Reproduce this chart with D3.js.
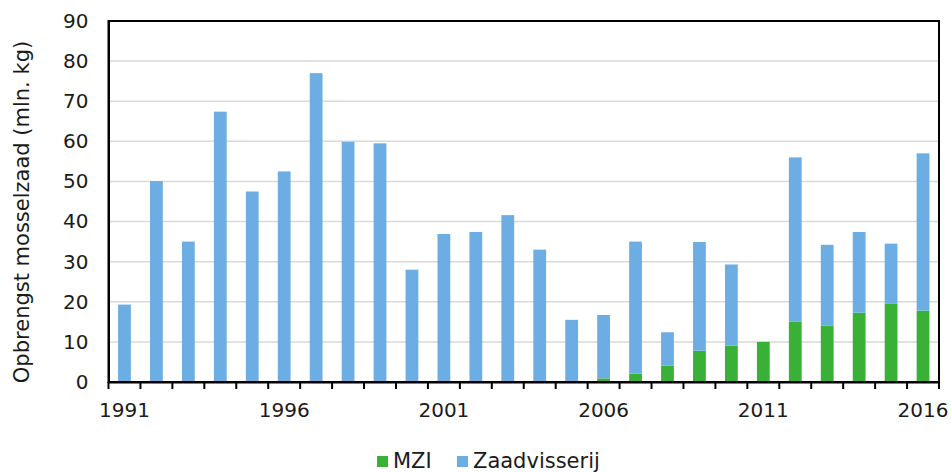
<!DOCTYPE html>
<html>
<head>
<meta charset="utf-8">
<script src="https://cdnjs.cloudflare.com/ajax/libs/d3/7.8.5/d3.min.js"></script>
<style>
  body { margin: 0; background: #fff; }
  text { font-family: "DejaVu Sans", sans-serif; fill: #1a1a1a; }
</style>
</head>
<body>
<div id="graph"></div>
<script>
// data (mln. kg)
var years = ["1991","1992","1993","1994","1995","1996","1997","1998","1999","2000",
             "2001","2002","2003","2004","2005","2006","2007","2008","2009","2010",
             "2011","2012","2013","2014","2015","2016"];
var mzi = [0,0,0,0,0,0,0,0,0,0,
           0,0,0,0,0,0.9,2.1,4.1,7.8,9.1,
           10.0,15.1,14.0,17.3,19.6,17.8];
var zaad = [19.3,50.1,35.0,67.4,47.5,52.5,77.0,59.9,59.5,28.0,
            36.9,37.4,41.6,33.0,15.5,15.8,32.9,8.3,27.1,20.2,
            0,40.9,20.2,20.1,14.9,39.2];
var yTicks = [0,10,20,30,40,50,60,70,80,90];
var xLabels = ["1991","1996","2001","2006","2011","2016"];
var seriesNames = ["MZI","Zaadvisserij"];
var colors = ["#38b136","#6cade4"];

var margin = {top: 21, right: 12, bottom: 90, left: 108.5};
var w = 951 - margin.left - margin.right;
var h = 472 - margin.top - margin.bottom;

var svg = d3.select("#graph")
            .append("svg")
            .attr("width", 951)
            .attr("height", 472)
            .append("g")
            .attr("transform", "translate(" + margin.left + "," + margin.top + ")");

var x = d3.scaleBand()
          .domain(years)
          .range([0, w])
          .paddingInner(0.6)
          .paddingOuter(0.3);

var y = d3.scaleLinear()
          .domain([0, 90])
          .range([h, 0]);

// gridlines
svg.selectAll(".grid")
    .data(yTicks.slice(1, -1))
    .enter()
    .append("line")
    .attr("x1", 0)
    .attr("x2", w)
    .attr("y1", function(d) { return y(d); })
    .attr("y2", function(d) { return y(d); })
    .attr("stroke", "#d9d9d9")
    .attr("stroke-width", 1.5);

// stacked bars
var rows = years.map(function(yr, i) { return {year: yr, MZI: mzi[i], Zaadvisserij: zaad[i]}; });
var stack = d3.stack().keys(seriesNames)(rows);

svg.selectAll(".series")
    .data(stack)
    .enter()
    .append("g")
    .attr("fill", function(d, i) { return colors[i]; })
    .selectAll("rect")
    .data(function(d) { return d; })
    .enter()
        .append("rect")
        .attr("x", function(d) { return x(d.data.year); })
        .attr("y", function(d) { return y(d[1]); })
        .attr("width", x.bandwidth())
        .attr("height", function(d) { return y(d[0]) - y(d[1]); });

// frame (top / right)
svg.append("rect")
    .attr("x", 0)
    .attr("y", 0)
    .attr("width", w)
    .attr("height", h)
    .attr("fill", "none")
    .attr("stroke", "#000")
    .attr("stroke-width", 2);

// y axis
var yAxis = svg.append("g")
    .call(d3.axisLeft(y).tickValues(yTicks).tickSize(0).tickPadding(20));
yAxis.select(".domain").attr("stroke", "#000").attr("stroke-width", 2);
yAxis.selectAll("text").style("font-size", "20px");

// x axis: labels every 5 years, ticks on band boundaries
var xAxis = svg.append("g")
    .attr("transform", "translate(0," + h + ")")
    .call(d3.axisBottom(x).tickValues(xLabels).tickSize(0).tickPadding(21));
xAxis.select(".domain").attr("stroke", "#000").attr("stroke-width", 2);
xAxis.selectAll("text").style("font-size", "20px");

var bounds = years.map(function(d) { return x(d) - x.step() * 0.3; }).concat([w]);
svg.selectAll(".xtick")
    .data(bounds)
    .enter()
    .append("line")
    .attr("x1", function(d) { return d; })
    .attr("x2", function(d) { return d; })
    .attr("y1", h)
    .attr("y2", h + 7)
    .attr("stroke", "#000")
    .attr("stroke-width", 2);

// y title
svg.append("text")
    .attr("transform", "translate(" + (22 - margin.left) + "," + (212 - margin.top) + ") rotate(-90)")
    .attr("text-anchor", "middle")
    .attr("dy", "0.35em")
    .style("font-size", "21px")
    .text("Opbrengst mosselzaad (mln. kg)");

// legend
var legendX = [377, 457];
var legend = svg.selectAll(".legend")
    .data(seriesNames)
    .enter()
    .append("g")
    .attr("transform", function(d, i) { return "translate(" + (legendX[i] - margin.left) + "," + (456 - margin.top) + ")"; });
legend.append("rect")
    .attr("width", 11)
    .attr("height", 11)
    .attr("fill", function(d, i) { return colors[i]; });
legend.append("text")
    .attr("x", 16)
    .attr("y", 11.5)
    .style("font-size", "21px")
    .text(function(d) { return d; });
</script>
</body>
</html>
